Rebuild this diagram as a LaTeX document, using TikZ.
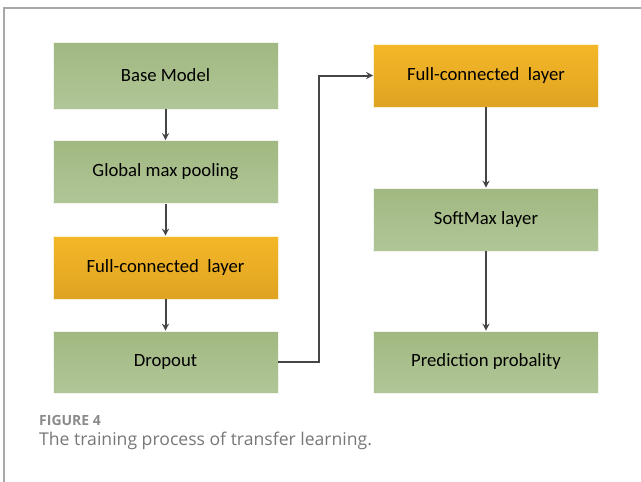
\documentclass[tikz,border=0pt]{standalone}
\usepackage{fontspec}
\setmainfont{Carlito}
\newfontfamily\capfont{Open Sans}
\usetikzlibrary{arrows.meta}
\definecolor{gtop}{HTML}{A1B881}
\definecolor{gbot}{HTML}{B1C697}
\definecolor{otop}{HTML}{F4B728}
\definecolor{obot}{HTML}{DFA322}
\definecolor{conn}{HTML}{454545}
\definecolor{frame}{HTML}{A8A8A8}
\definecolor{capgray}{HTML}{8A8A8A}
\definecolor{captext}{HTML}{777777}
\tikzset{
  greenbox/.style={minimum width=225pt, minimum height=63pt, inner sep=0pt,
    top color=gtop, bottom color=gbot, draw=white!85!gtop, line width=0.6pt,
    font=\fontsize{18.7}{20}\selectfont},
  orangebox/.style={greenbox, top color=otop, bottom color=obot, draw=white!80!otop},
  flow/.style={draw=conn, line width=2pt, -{Stealth[length=7pt,width=7pt]}},
  framestyle/.style={draw=frame, line width=1.3pt}
}
\begin{document}
\begin{tikzpicture}[x=1pt,y=-1pt]
\useasboundingbox (0,0) rectangle (641,482);
\draw[framestyle] (641,8) -- (4,8) -- (4,482);
% left column
\node[greenbox, minimum height=67pt] (base) at (165.5,75.5) {Base Model};
\node[greenbox] (gmp) at (165.5,172) {Global max pooling};
\node[orangebox] (fc1) at (165.5,267.5) {Full-connected\ \ layer};
\node[greenbox, minimum height=62pt] (drop) at (165.5,362) {Dropout};
% right column
\node[orangebox] (fc2) at (486,75.5) {Full-connected\ \ layer};
\node[greenbox] (soft) at (486,219.5) {SoftMax layer};
\node[greenbox, minimum height=62pt] (pred) at (486,362) {Prediction probality};
% connectors
\draw[flow] (base) -- (gmp);
\draw[flow] (gmp) -- (fc1);
\draw[flow] (fc1) -- (drop);
\coordinate (c1) at (319,362);
\coordinate (c2) at (319,75.5);
\draw[flow] (drop.east) -- (c1) -- (c2) -- (fc2.west);
\draw[flow] (fc2) -- (soft);
\draw[flow] (soft) -- (pred);
% caption
\node[anchor=base west, inner sep=0pt, text=capgray, font=\capfont\bfseries\fontsize{14}{16}\selectfont] (figlabel) at (39,425) {FIGURE 4};
\node[anchor=base west, inner sep=0pt, text=captext, font=\capfont\fontsize{17.6}{20}\selectfont] (figcap) at (39,445.5) {The training process of transfer learning.};
\end{tikzpicture}
\end{document}
